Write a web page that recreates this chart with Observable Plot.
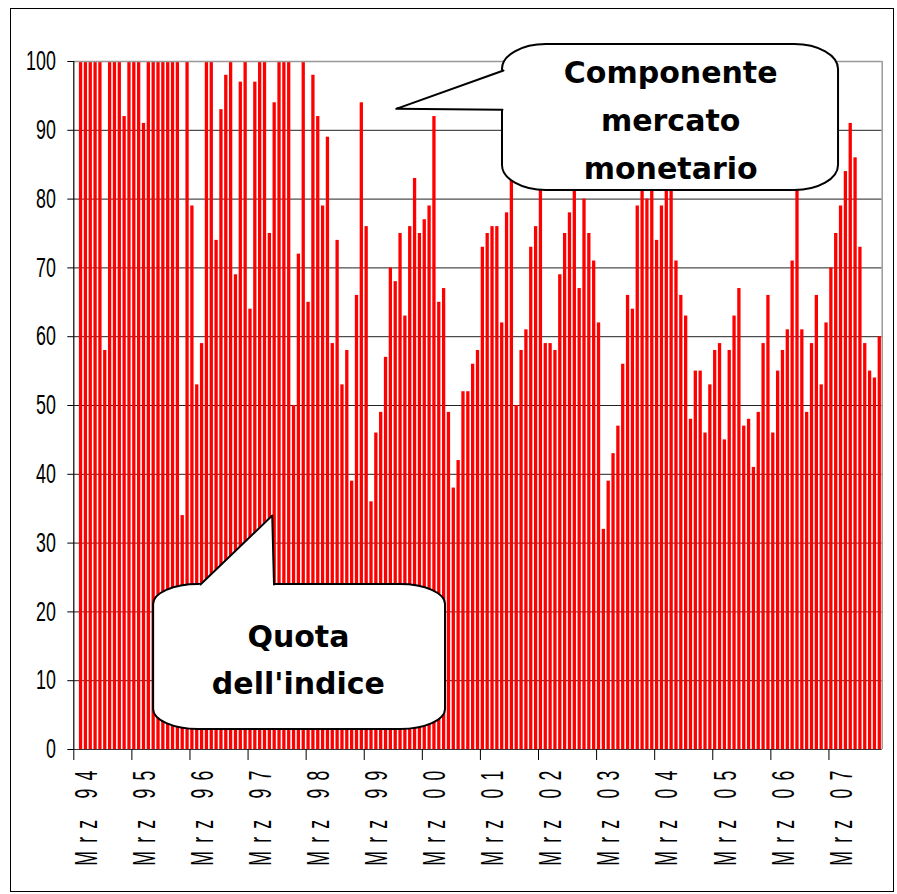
<!DOCTYPE html>
<html><head><meta charset="utf-8">
<script src="https://cdn.jsdelivr.net/npm/d3@7"></script>
<script src="https://cdn.jsdelivr.net/npm/@observablehq/plot@0.6"></script>
<style>
html,body{margin:0;padding:0;background:#fff;}
#wrap{position:relative;width:897px;height:894px;}
#border{position:absolute;left:10px;top:8px;width:882px;height:882px;border:1px solid #000;pointer-events:none;}
</style></head><body><div id="wrap"><div id="border"></div></div>
<script>
// Category axis: monthly slots from Mrz 94; labels every 12 months
const tickLabels = ["Mrz 94","Mrz 95","Mrz 96","Mrz 97","Mrz 98","Mrz 99","Mrz 00","Mrz 01","Mrz 02","Mrz 03","Mrz 04","Mrz 05","Mrz 06","Mrz 07"];
const tickIndex = [0,12,24,36,48,60,72,84,96,108,120,132,144,156];
const slotCount = 167;
// Quota dell'indice – componente mercato monetario (%), one value per month slot
const quota = [
  null,100,100,100,100,100,58,100,100,100,92,100,
  100,100,91,100,100,100,100,100,100,100,34,100,
  79,53,59,100,100,74,93,98,100,69,97,100,
  64,97,100,100,75,94,100,100,100,50,72,100,
  65,98,92,79,89,59,74,53,58,39,66,94,
  76,36,46,49,57,70,68,75,63,76,83,75,
  77,79,92,65,67,49,38,42,52,52,56,58,
  73,75,76,76,62,78,86,50,58,61,73,76,
  84,59,59,58,69,75,78,84,67,80,75,71,
  62,32,39,43,47,56,66,64,79,83,80,85,
  74,79,83,86,71,66,63,48,55,55,46,53,
  58,59,45,58,63,67,47,48,41,49,59,66,
  46,55,58,61,71,84,61,49,59,66,53,62,
  70,75,79,84,91,86,73,59,55,54,60
];
const yTicks = [0,10,20,30,40,50,60,70,80,90,100];

// Callout annotations (in data units: x = month slot, y = percent)
const calloutMercato = {text: "Componente\nmercato\nmonetario", cx: 123.3, cy: 92.1,
  box: {x1: 88.56, x2: 157.98, y1: 81.25, y2: 102.47},
  tip: {x: 66.6, y: 93.12}, baseA: {x: 88.77, y: 98.69}, baseB: {x: 88.56, y: 93.0},
  fillX: 89.5, fillA: 98.87, fillB: 92.99};
const calloutQuota = {text: "Quota\ndell'indice", cx: 46.4, cy: 13.7,
  box: {x1: 16.49, x2: 76.79, y1: 2.91, y2: 23.98},
  tip: {x: 40.99, y: 34.01}, baseA: {x: 26.17, y: 23.98}, baseB: {x: 41.36, y: 23.98},
  fillY: 23.4, fillA: 25.31, fillB: 41.38};

const data = quota.map((v, k) => ({k, v})).filter(d => d.v != null);

const W = 897, H = 894;
const FONT = "Liberation Sans, Arial, sans-serif";
const BOLD = "DejaVu Sans, Verdana, sans-serif";

const cm = calloutMercato, cq = calloutQuota;

const chart = Plot.plot({
  width: W, height: H,
  marginLeft: 73.3, marginRight: 15.3, marginTop: 61, marginBottom: 145,
  style: {background: "white", fontFamily: FONT},
  x: {type: "linear", domain: [0, slotCount], label: null},
  y: {domain: [0, 100], label: null},
  marks: [
    Plot.ruleY(yTicks.filter(v => v > 0 && v < 100), {stroke: "#222", strokeWidth: 1}),
    Plot.rectY(data, {x1: d => d.k + 0.16, x2: d => d.k + 0.84, y1: 0, y2: "v", fill: "#ff0000"}),
    Plot.ruleY([100], {stroke: "#999", strokeWidth: 1.5}),
    Plot.ruleX([slotCount], {stroke: "#999", strokeWidth: 1.5}),
    Plot.ruleY([0], {stroke: "#333", strokeWidth: 1.2}),
    Plot.ruleX([0], {stroke: "#000", strokeWidth: 1.2}),
    Plot.axisY(yTicks, {tickSize: 6, tickPadding: 12, fontSize: 27, fontFamily: FONT, label: null}),
    Plot.axisX(tickIndex, {tickSize: 11, tickFormat: () => "", label: null}),
    Plot.text(tickIndex, {x: d => d, frameAnchor: "bottom", dy: 13, dx: 12.5, rotate: -90,
      textAnchor: "end", lineAnchor: "middle", text: (d, i) => tickLabels[i],
      fontSize: 32, fontFamily: FONT, fill: "black"}),
    // Callout: Componente mercato monetario
    Plot.rect([cm.box], {x1: "x1", x2: "x2", y1: "y1", y2: "y2", fill: "white", stroke: "black", strokeWidth: 2, rx: 44, ry: 25}),
    Plot.areaY([{x: cm.tip.x, y1: cm.tip.y, y2: cm.tip.y}, {x: cm.fillX, y1: cm.fillA, y2: cm.fillB}],
      {x: "x", y1: "y1", y2: "y2", fill: "white"}),
    Plot.line([cm.baseA, cm.tip, cm.baseB], {x: "x", y: "y", stroke: "black", strokeWidth: 2}),
    // Callout: Quota dell'indice
    Plot.rect([cq.box], {x1: "x1", x2: "x2", y1: "y1", y2: "y2", fill: "white", stroke: "black", strokeWidth: 2, rx: 45, ry: 20}),
    Plot.areaX([{y: cq.tip.y, x1: cq.tip.x, x2: cq.tip.x}, {y: cq.fillY, x1: cq.fillA, x2: cq.fillB}],
      {y: "y", x1: "x1", x2: "x2", fill: "white"}),
    Plot.line([cq.baseA, cq.tip, cq.baseB], {x: "x", y: "y", stroke: "black", strokeWidth: 2}),
    Plot.text([cm], {x: "cx", y: "cy", text: "text", fontSize: 30, fontWeight: "bold",
      fontFamily: BOLD, lineHeight: 1.6, lineAnchor: "middle", fill: "black"}),
    Plot.text([cq], {x: "cx", y: "cy", text: "text", fontSize: 30, fontWeight: "bold",
      fontFamily: BOLD, lineHeight: 1.567, lineAnchor: "middle", fill: "black"})
  ]
});

function condense(nodes, sx) {
  nodes.forEach(t => {
    let tr = t.getAttribute("transform");
    if (!tr) {
      const x = t.getAttribute("x") || 0, y = t.getAttribute("y") || 0;
      tr = `translate(${x},${y})`;
      t.removeAttribute("x"); t.removeAttribute("y");
    }
    t.setAttribute("transform", tr + ` scale(${sx},1)`);
  });
}
condense(chart.querySelectorAll('g[aria-label="y-axis tick label"] text'), 0.66);
const xLabelNodes = Array.from(chart.querySelectorAll('text')).filter(t => tickLabels.includes(t.textContent));
condense(xLabelNodes, 0.55);
xLabelNodes.forEach(t => t.style.letterSpacing = "15px");

document.getElementById("wrap").prepend(chart);
</script>
</body></html>
